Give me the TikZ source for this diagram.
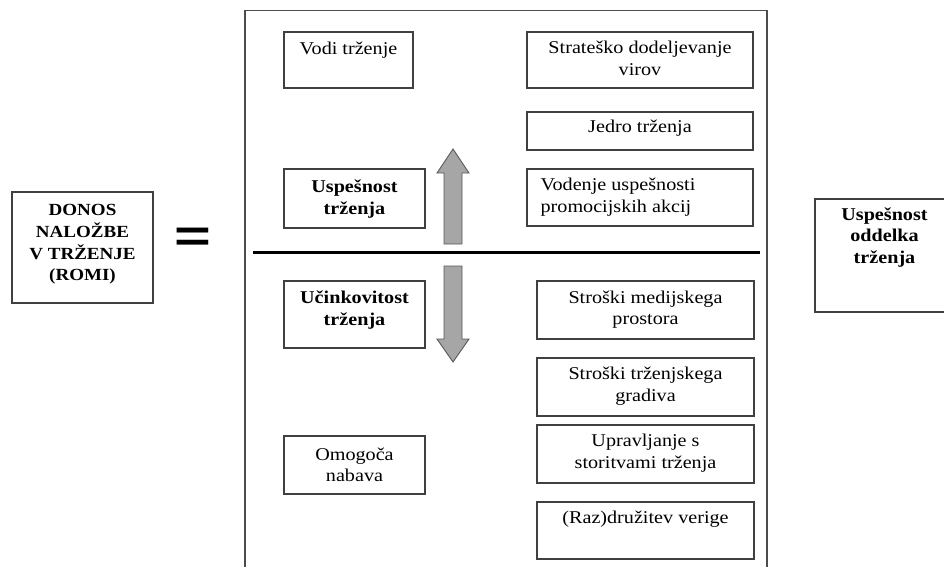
\documentclass[tikz,border=0pt]{standalone}
\usepackage{fontspec}
\setmainfont{Liberation Serif}[FakeStretch=1.12]
\newfontfamily\eqfont{Liberation Sans}
\begin{document}
\begin{tikzpicture}[x=1pt,y=-1pt,
  box/.style={draw=black!75, line width=1.1pt, inner sep=0pt, fill=white},
  txt/.style={anchor=north, inner sep=0pt, align=center, text=black,
    font=\fontsize{18}{21.7}\selectfont},
  btxt/.style={txt, font=\fontsize{18}{21.7}\selectfont\bfseries},
  arr/.style={fill=black!35, draw=black!65, line width=0.9pt, line join=miter}]
\useasboundingbox (0,0) rectangle (944,566);
\clip (0,0) rectangle (944,566);
\newcommand\st{\rule{0pt}{18pt}}
% frame
\draw[black!70, line width=1.2pt] (245,580) -- (245,10.5) -- (767,10.5) -- (767,580);
% left box
\node[box, minimum width=141pt, minimum height=111pt] (romi) at (82.5,247.5) {};
\node[txt, font=\fontsize{17}{21.7}\selectfont\bfseries] (romit) at ([yshift=-6pt]romi.north) {\st DONOS\\NALOŽBE\\V TRŽENJE\\(ROMI)};
% equal sign
\node[inner sep=0pt] (eq) at (193,240) {\eqfont\bfseries\fontsize{45}{45}\selectfont\scalebox{1.4}[1]{=}};
% boxes inside frame
\node[box, minimum width=129pt, minimum height=56pt] (vodi) at (348.5,60) {};
\node[txt] (vodit) at ([yshift=-5pt]vodi.north) {\st Vodi trženje};
\node[box, minimum width=226pt, minimum height=56pt] (strat) at (640,60) {};
\node[txt] (stratt) at ([yshift=-4pt]strat.north) {\st Strateško dodeljevanje\\virov};
\node[box, minimum width=226pt, minimum height=38pt] (jedro) at (640,131) {};
\node[txt] (jedrot) at ([yshift=-2.5pt]jedro.north) {\st Jedro trženja};
\node[box, minimum width=141pt, minimum height=59pt] (uspes) at (354.5,198.5) {};
\node[btxt] (uspest) at ([yshift=-6pt]uspes.north) {\st Uspešnost\\trženja};
\node[box, minimum width=226pt, minimum height=57pt] (voden) at (640,197.5) {};
\node[txt, anchor=north west, align=left] (vodent) at ([xshift=14pt,yshift=-4pt]voden.north west) {\st Vodenje uspešnosti\\promocijskih akcij};
\node[box, minimum width=141pt, minimum height=67pt] (ucink) at (354.5,314.5) {};
\node[btxt] (ucinkt) at ([yshift=-5pt]ucink.north) {\st Učinkovitost\\trženja};
\node[box, minimum width=217pt, minimum height=58pt] (strmed) at (645.5,310) {};
\node[txt] (strmedt) at ([yshift=-4.5pt]strmed.north) {\st Stroški medijskega\\prostora};
\node[box, minimum width=217pt, minimum height=58pt] (strtrz) at (645.5,387) {};
\node[txt] (strtrzt) at ([yshift=-4pt]strtrz.north) {\st Stroški trženjskega\\gradiva};
\node[box, minimum width=217pt, minimum height=58pt] (uprav) at (645.5,454) {};
\node[txt] (upravt) at ([yshift=-4pt]uprav.north) {\st Upravljanje s\\storitvami trženja};
\node[box, minimum width=141pt, minimum height=58pt] (omog) at (354.5,465) {};
\node[txt] (omogt) at ([yshift=-6.5pt]omog.north) {\st Omogoča\\nabava};
\node[box, minimum width=217pt, minimum height=57pt] (raz) at (645.5,530.5) {};
\node[txt] (razt) at ([yshift=-3.5pt]raz.north) {\st (Raz)družitev verige};
% right box
\node[box, minimum width=139pt, minimum height=113pt] (oddel) at (884.5,255.5) {};
\node[btxt] (oddelt) at ([yshift=-3.5pt]oddel.north) {\st Uspešnost\\oddelka\\trženja};
% divider
\draw[black, line width=3.5pt] (253,252.5) -- (760,252.5);
% arrows
\draw[arr] (444,244) -- (444,173) -- (437,173) -- (453,149) -- (469,173) -- (462,173) -- (462,244) -- cycle;
\draw[arr] (444,266) -- (444,339) -- (437,339) -- (453,362) -- (469,339) -- (462,339) -- (462,266) -- cycle;
\end{tikzpicture}
\end{document}
